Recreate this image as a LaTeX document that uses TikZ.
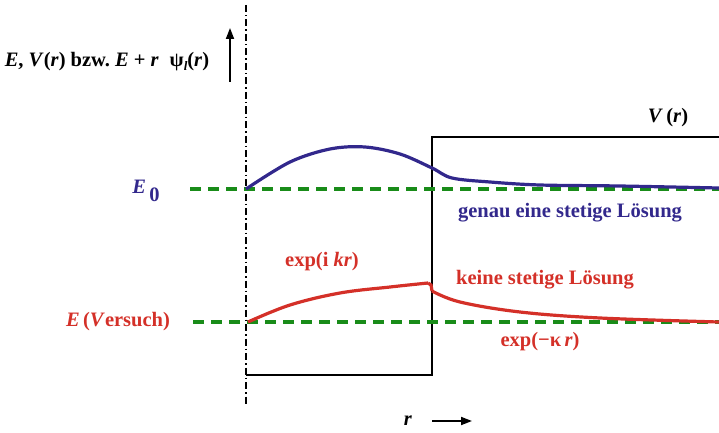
\documentclass[tikz,border=0pt]{standalone}
\usepackage{fontspec}
\setmainfont{Liberation Serif}
\usetikzlibrary{arrows.meta}
\definecolor{wfblue}{RGB}{50,40,140}
\definecolor{wfred}{RGB}{212,48,40}
\definecolor{levelgreen}{RGB}{25,140,25}
\tikzset{
  lbl/.style={font=\fontsize{20.5}{24}\selectfont\bfseries, inner sep=1pt},
  level/.style={levelgreen, line width=3.2pt, dash pattern=on 11pt off 7pt},
  wave/.style={line width=3.2pt},
  pot/.style={black, line width=1.3pt}
}
\begin{document}
\begin{tikzpicture}[x=1pt, y=-1pt]
  \useasboundingbox (0,0) rectangle (719,433);
  % axis
  \draw[black, line width=1.2pt, dash pattern=on 7pt off 3pt on 1.5pt off 3pt] (246,5) -- (246,405);
  \coordinate (upS) at (230,82);
  \coordinate (upE) at (230,28);
  \draw[line width=1.8pt, -{Triangle[length=11pt,width=8pt]}] (upS) -- (upE);
  \node[lbl] (ylabel) at (107,62) {\textit{E}, \textit{V}(\textit{r}) bzw.\ \textit{E} + \textit{r}\; ψ\raisebox{-4pt}{\fontsize{13}{14}\selectfont\textit{l}}(\textit{r})};
  % potential
  \coordinate (P1) at (246,375);
  \coordinate (P2) at (432,375);
  \coordinate (P3) at (432,137);
  \coordinate (P4) at (719,137);
  \draw[pot] (P1) -- (P2) -- (P3) -- (P4);
  \node[lbl] (vlabel) at (668,118) {\textit{V}\,(\textit{r})};
  % levels
  \draw[level] (190,189) -- (719,189);
  \draw[level] (193,322) -- (719,322);
  \node[lbl, wfblue] (e0) at (146,191) {\textit{E}\,\raisebox{-8pt}{0}};
  \node[lbl, wfred] (ev) at (118,322) {\textit{E}\,(\textit{V}ersuch)};
  % waves
  \draw[wave, wfblue] plot[smooth, tension=0.55] coordinates {(246,189) (290,162) (330,149) (365,147) (400,154) (432,168) (452,178) (490,182) (540,185) (620,186) (719,188)};
  \draw[wave, wfred] plot[smooth, tension=0.6] coordinates {(248,322) (290,305) (340,293) (390,287) (428,283)};
  \draw[wave, wfred] (428,283) -- (431,285) -- (432,291);
  \draw[wave, wfred] plot[smooth, tension=0.6] coordinates {(432,291) (460,302) (520,312) (600,318) (719,322)};
  \node[lbl, wfblue] (blue) at (570,213) {genau eine stetige Lösung};
  \node[lbl, wfred] (kik) at (322,262) {exp(i \textit{kr})};
  \node[lbl, wfred] (none) at (545,280) {keine stetige Lösung};
  \node[lbl, wfred] (kap) at (540,342) {exp(−κ\,\textit{r})};
  % r axis
  \node[lbl] (rlabel) at (408,421) {\textit{r}};
  \coordinate (rS) at (432,421);
  \coordinate (rE) at (472,421);
  \draw[line width=1.8pt, -{Triangle[length=11pt,width=8pt]}] (rS) -- (rE);
\end{tikzpicture}
\end{document}
